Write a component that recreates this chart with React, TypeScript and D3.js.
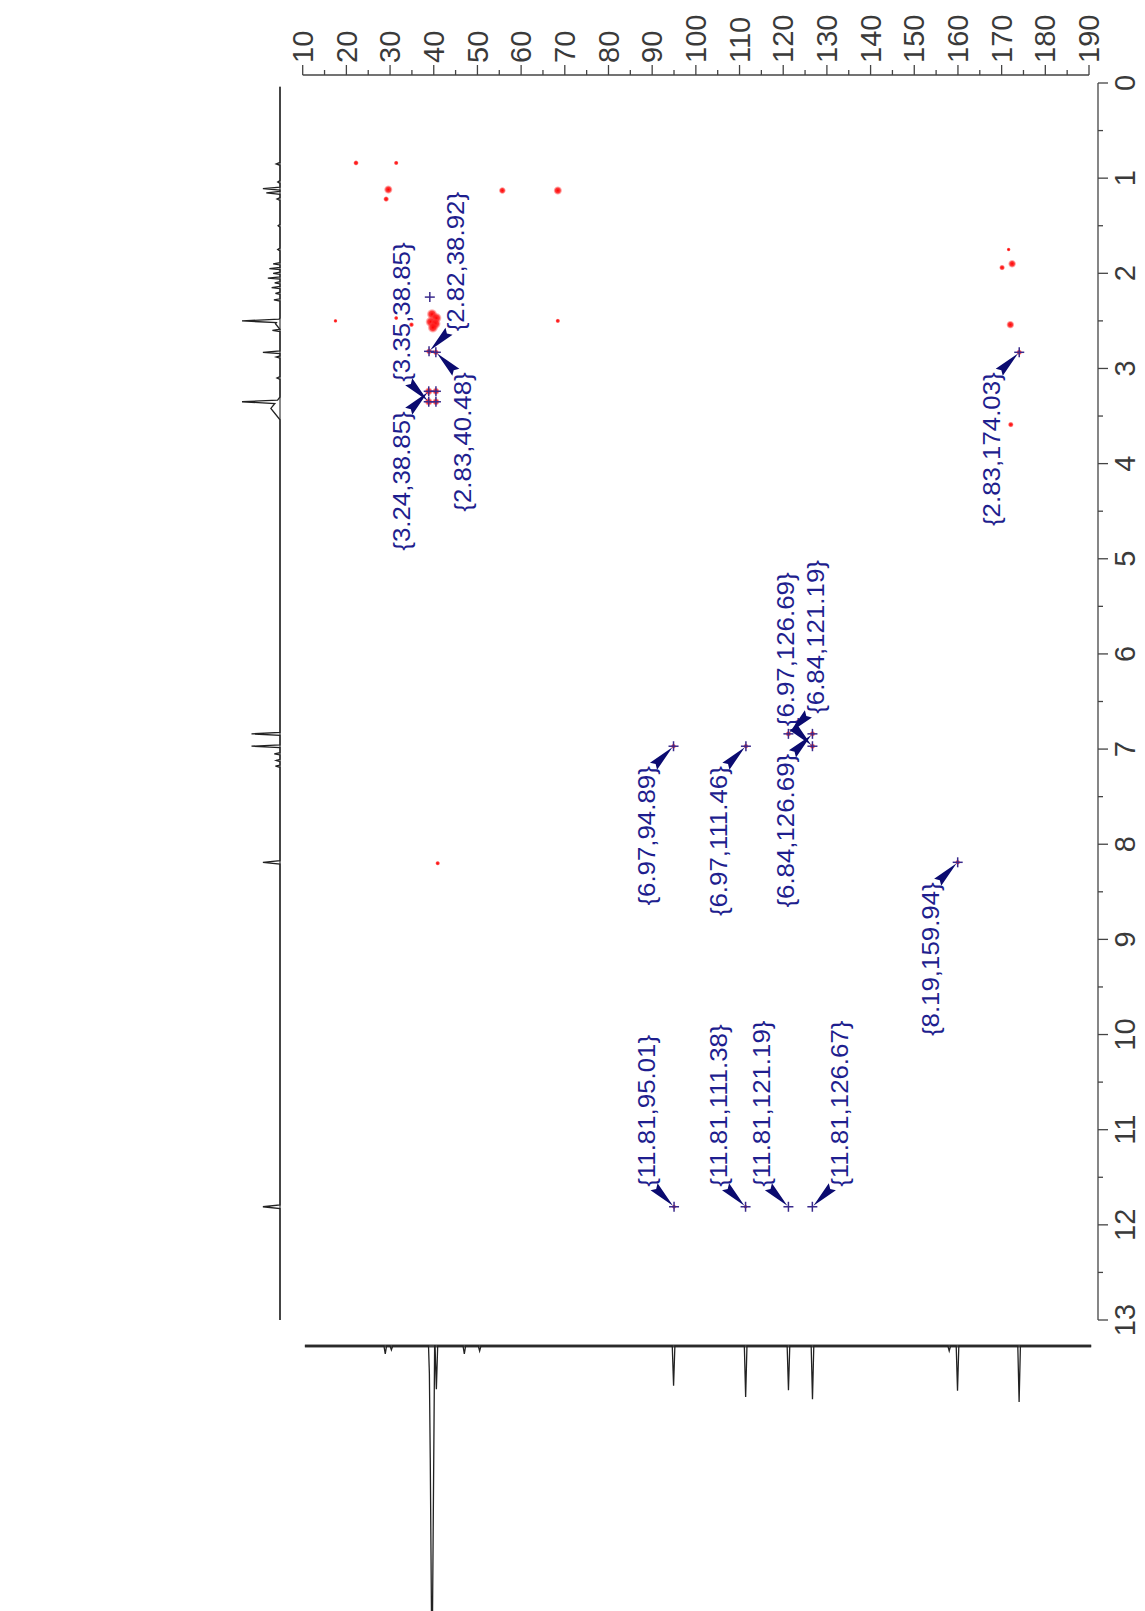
import * as d3 from "d3";
import React from "react";

const width = 1145;
const height = 1611;

// axis ticks
const carbonTicks = d3.range(10, 191, 10);
const carbonMinor = d3.range(15, 190, 10);
const protonTicks = d3.range(0, 14, 1);
const protonMinor = d3.range(0.5, 13, 1);

// picked cross peaks {1H, 13C} with their label
const picked: [number, number][] = [
  [3.24, 38.85],
  [3.35, 38.85],
  [2.82, 38.92],
  [2.83, 40.48],
  [2.83, 174.03],
  [6.97, 94.89],
  [6.97, 111.46],
  [6.84, 126.69],
  [6.97, 126.69],
  [6.84, 121.19],
  [8.19, 159.94],
  [11.81, 95.01],
  [11.81, 111.38],
  [11.81, 121.19],
  [11.81, 126.67],
];
// where each label sits relative to its peak (u/d, l/r)
const pickSide = ["dl", "ul", "ur", "dr", "dl", "dl", "dl", "dl", "ul", "ur", "dl", "ul", "ul", "ul", "ur"];

// picked without label
const extraPicks: [number, number][] = [
  [2.25, 39.1],
  [3.24, 40.5],
  [3.35, 40.5],
];

// red contour spots: [1H, 13C, intensity]
const contours: [number, number, number][] = [
  [0.84, 22.2, 1.4],
  [0.84, 31.4, 1.2],
  [1.12, 29.6, 2.4],
  [1.22, 29.1, 1.5],
  [1.13, 55.7, 1.9],
  [1.13, 68.4, 2.4],
  [2.5, 17.5, 1],
  [2.47, 31.4, 1.1],
  [2.54, 34.9, 1.3],
  [2.5, 68.4, 1.2],
  [2.43, 39.6, 3],
  [2.47, 40.6, 3],
  [2.51, 39.3, 3],
  [2.53, 40.4, 3],
  [2.57, 39.8, 3],
  [8.2, 40.9, 1.2],
  [1.75, 171.6, 1],
  [1.94, 170.1, 1.5],
  [1.9, 172.4, 2.2],
  [2.54, 172.0, 2.2],
  [3.59, 172.1, 1.5],
  [2.82, 38.92, 1.6],
  [2.83, 40.48, 1.6],
  [3.24, 38.85, 2.2],
  [3.35, 38.85, 2.2],
  [3.24, 40.5, 2],
  [3.35, 40.5, 2],
  [2.83, 174.03, 1.5],
  [6.97, 94.89, 1.3],
  [6.97, 111.46, 1.3],
  [6.84, 126.69, 1.5],
  [6.97, 126.69, 1.5],
  [6.84, 121.19, 1.5],
  [8.19, 159.94, 1.3],
  [11.81, 95.01, 1.1],
  [11.81, 111.38, 1],
];

// 1H projection: [ppm, intensity, half width]
const protonPeaks: [number, number, number][] = [
  [0.85, 0.1, 0.015],
  [1.04, 0.06, 0.015],
  [1.11, 0.45, 0.015],
  [1.155, 0.36, 0.015],
  [1.22, 0.08, 0.015],
  [1.5, 0.05, 0.015],
  [1.75, 0.06, 0.015],
  [1.9, 0.18, 0.012],
  [1.95, 0.28, 0.012],
  [2.0, 0.18, 0.012],
  [2.05, 0.32, 0.012],
  [2.1, 0.14, 0.012],
  [2.15, 0.22, 0.012],
  [2.21, 0.12, 0.012],
  [2.28, 0.16, 0.012],
  [2.5, 1.0, 0.018],
  [2.53, 0.12, 0.06],
  [2.6, 0.2, 0.012],
  [2.83, 0.45, 0.015],
  [2.88, 0.1, 0.012],
  [3.1, 0.08, 0.015],
  [3.35, 1.0, 0.018],
  [3.42, 0.24, 0.12],
  [6.84, 0.75, 0.015],
  [6.97, 0.75, 0.015],
  [7.05, 0.15, 0.012],
  [7.12, 0.1, 0.012],
  [7.18, 0.12, 0.012],
  [8.19, 0.45, 0.018],
  [11.81, 0.45, 0.02],
];

// 13C projection: [ppm, intensity, half width]
const carbonPeaks: [number, number, number][] = [
  [28.9, 0.14, 0.3],
  [30.3, 0.07, 0.3],
  [39.2, 0.98, 0.4],
  [39.6, 6, 0.6],
  [40.6, 0.77, 0.3],
  [47.0, 0.14, 0.3],
  [50.5, 0.09, 0.3],
  [94.9, 0.71, 0.3],
  [111.4, 0.91, 0.3],
  [121.2, 0.79, 0.3],
  [126.7, 0.95, 0.3],
  [158.0, 0.09, 0.3],
  [159.9, 0.8, 0.3],
  [174.0, 1.0, 0.3],
];

const xC = d3.scaleLinear().domain([10, 190]).range([302.7, 1089]);
const yH = d3.scaleLinear().domain([0, 13]).range([83, 1320]);
const hIntensity = d3.scaleLinear().domain([0, 1]).range([280, 242]);
const cIntensity = d3.scaleLinear().domain([0, 1]).range([1346, 1402]);
const spotRadius = d3.scaleLinear().domain([1, 3]).range([2.2, 5.5]);

function traceVertices(peaks: [number, number, number][], lo: number, hi: number) {
  const xs = new Set<number>([lo, hi]);
  peaks.forEach(([p, , w]) => {
    xs.add(p - w);
    xs.add(p);
    xs.add(p + w);
  });
  const sorted = [...xs].filter((v) => v >= lo && v <= hi).sort((a, b) => a - b);
  return sorted.map((v) => [
    v,
    d3.max(peaks, ([p, a, w]) => Math.max(0, a * (1 - Math.abs(v - p) / w))) ?? 0,
  ]);
}

const navy = "#1e1e8e";
const arrowColor = "#0b0b70";
const axisColor = "#444";
const tickFont = "'Liberation Sans', Arial, sans-serif";

export default function App() {
  const protonLine = d3
    .line<number[]>()
    .x((d) => hIntensity(d[1]))
    .y((d) => yH(d[0]))(traceVertices(protonPeaks, 0.04, 13));

  const carbonLine = d3
    .line<number[]>()
    .x((d) => xC(d[0]))
    .y((d) => cIntensity(d[1]))(traceVertices(carbonPeaks, 10.5, 190.5));

  return (
    <svg
      width={width}
      height={height}
      style={{ position: "absolute", left: 0, top: 0, background: "#fff" }}
    >
      <defs>
        <radialGradient id="spot">
          <stop offset="0" stopColor="#ff0000" stopOpacity={1} />
          <stop offset="0.55" stopColor="#ff1a1a" stopOpacity={0.85} />
          <stop offset="1" stopColor="#ff4d4d" stopOpacity={0} />
        </radialGradient>
      </defs>

      {/* top 13C axis */}
      <g stroke={axisColor} strokeWidth={1.3}>
        <line x1={xC(10)} x2={xC(190)} y1={75} y2={75} />
        {carbonTicks.map((t) => (
          <line key={t} x1={xC(t)} x2={xC(t)} y1={75} y2={65} />
        ))}
        {carbonMinor.map((t) => (
          <line key={t} x1={xC(t)} x2={xC(t)} y1={75} y2={70} />
        ))}
      </g>
      <g fill="#3a3a3a" fontFamily={tickFont} fontSize={29}>
        {carbonTicks.map((t) => (
          <text key={t} transform={`translate(${xC(t)},63) rotate(-90)`} dy="0.35em">
            {t}
          </text>
        ))}
      </g>

      {/* right 1H axis */}
      <g stroke={axisColor} strokeWidth={1.3}>
        <line x1={1098} x2={1098} y1={yH(0)} y2={yH(13)} />
        {protonTicks.map((t) => (
          <line key={t} x1={1098} x2={1108} y1={yH(t)} y2={yH(t)} />
        ))}
        {protonMinor.map((t) => (
          <line key={t} x1={1098} x2={1103} y1={yH(t)} y2={yH(t)} />
        ))}
      </g>
      <g fill="#3a3a3a" fontFamily={tickFont} fontSize={29}>
        {protonTicks.map((t) => (
          <text
            key={t}
            transform={`translate(1125,${yH(t)}) rotate(-90)`}
            dy="0.35em"
            textAnchor="middle"
          >
            {t}
          </text>
        ))}
      </g>

      {/* 1H projection */}
      <line x1={280} x2={280} y1={yH(0.04)} y2={yH(13)} stroke="#888" strokeWidth={2} />
      <path d={protonLine ?? ""} fill="none" stroke="#222" strokeWidth={1.3} />

      {/* 13C projection */}
      <line x1={xC(10.5)} x2={xC(190.5)} y1={1346} y2={1346} stroke="#444" strokeWidth={3} />
      <path d={carbonLine ?? ""} fill="none" stroke="#222" strokeWidth={1.3} />

      {/* contour spots */}
      {contours.map(([h, c, a], i) => (
        <circle key={i} cx={xC(c)} cy={yH(h)} r={spotRadius(a)} fill="url(#spot)" />
      ))}

      {/* picked peak crosses */}
      <g stroke="#3a2a8c" strokeWidth={1.5}>
        {[...picked, ...extraPicks].map(([h, c], i) => (
          <g key={i} transform={`translate(${xC(c)},${yH(h)})`}>
            <line x1={-5} x2={5} y1={0} y2={0} />
            <line x1={0} x2={0} y1={-5} y2={5} />
          </g>
        ))}
      </g>

      {/* callouts */}
      {picked.map(([h, c], i) => {
        const side = pickSide[i];
        const sy = side[0] === "u" ? -1 : 1;
        const sx = side[1] === "l" ? -1 : 1;
        const px = xC(c);
        const py = yH(h);
        const bx = px + sx * 20;
        const by = py + sy * 20;
        const len = Math.hypot(bx - px, by - py);
        const ux = (bx - px) / len;
        const uy = (by - py) / len;
        const nx = -uy;
        const ny = ux;
        const hw = 5;
        const pts = [
          [px + ux * 1.5, py + uy * 1.5],
          [bx + nx * hw, by + ny * hw],
          [bx - ux * 3, by - uy * 3],
          [bx - nx * hw, by - ny * hw],
        ];
        const lx = px + sx * 27;
        const ly = py + sy * 20;
        return (
          <g key={i}>
            <polygon points={pts.map((p) => p.join(",")).join(" ")} fill={arrowColor} />
            <text
              transform={`translate(${lx},${ly}) rotate(-90) scale(1.1,1)`}
              dy="0.35em"
              textAnchor={sy < 0 ? "start" : "end"}
              fill={navy}
              fontFamily={tickFont}
              fontSize={23.5}
            >
              {`{${h.toFixed(2)},${c.toFixed(2)}}`}
            </text>
          </g>
        );
      })}
    </svg>
  );
}
